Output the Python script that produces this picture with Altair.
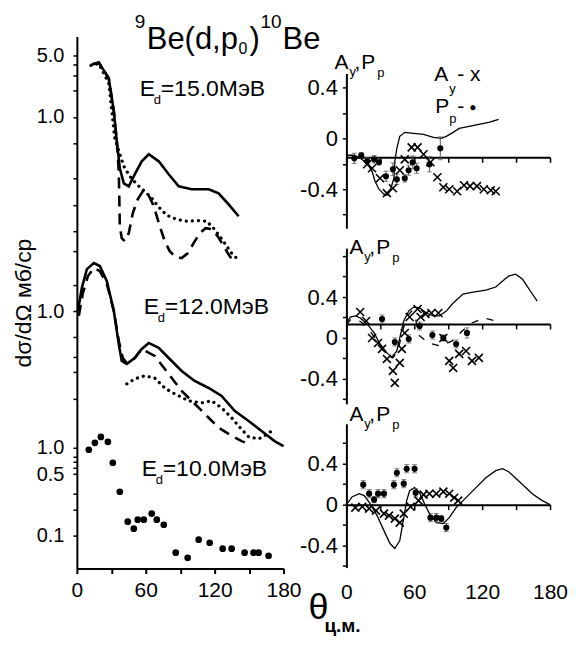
import altair as alt
import pandas as pd
import numpy as np

FONT = "Liberation Sans"

# ---------------- Left panel: dσ/dΩ (mb/sr) ----------------
# E_d = 15.0 MeV
th15_solid = [13.0, 19.1, 27.8, 32.2, 34.8, 37.4, 40.9, 45.2, 50.4, 56.5, 62.6, 71.3, 80.0, 88.7, 100.0, 114.8, 123.5, 132.2, 140.9]
s15_solid = [3.95, 4.16, 2.74, 1.155, 0.527, 0.26, 0.175, 0.162, 0.222, 0.312, 0.375, 0.312, 0.222, 0.162, 0.15, 0.15, 0.135, 0.101, 0.074]
th15_dash = [13.0, 19.1, 27.8, 32.2, 34.8, 36.5, 37.0, 37.4, 39.1, 41.7, 45.2, 48.7, 53.0, 57.4, 61.7, 67.0, 72.2, 76.5, 80.9, 86.1,
             91.3, 96.5, 101.7, 107.0, 112.2, 117.4, 122.6, 127.8, 133.0, 138.3]
s15_dash = [3.95, 4.16, 2.74, 1.155, 0.527, 0.24, 0.11, 0.057, 0.0417, 0.0385, 0.0474, 0.08, 0.1155, 0.142, 0.135, 0.096, 0.057, 0.0385, 0.0296, 0.0253,
            0.0247, 0.028, 0.0365, 0.0474, 0.054, 0.0527, 0.044, 0.034, 0.026, 0.0216]
th15_dot = [12.2, 19.1, 27.8, 33.0, 40.9, 46.1, 52.2, 59.1, 65.2, 71.3, 78.3, 87.0, 95.7, 104.3, 113.0, 119.1, 124.3, 130.4, 134.8, 140.0]
s15_dot = [3.85, 4.05, 2.40, 0.57, 0.274, 0.211, 0.171, 0.142, 0.119, 0.094, 0.076, 0.068, 0.065, 0.066, 0.065, 0.054, 0.044, 0.034, 0.028, 0.024]

# E_d = 12.0 MeV
th12_solid = [0.9, 4.3, 8.7, 14.8, 20.0, 26.1, 32.2, 36.5, 39.1, 43.5, 50.4, 56.5, 62.6, 71.3, 80.0, 91.3, 102.6, 114.8, 126.1, 137.4, 149.6, 160.9, 172.2, 180.0]
s12_solid = [1.0, 1.83, 3.0, 3.51, 3.25, 2.19, 1.0, 0.42, 0.27, 0.25, 0.292, 0.37, 0.433, 0.38, 0.292, 0.208, 0.16, 0.133, 0.108, 0.073, 0.056, 0.043, 0.033, 0.029]
th12_dash = [1.7, 5.2, 9.6, 14.8, 20.0, 26.1, 32.2, 36.5, 40.0, 43.5, 50.4, 56.5, 67.8, 80.0, 91.3, 102.6, 114.8, 123.5, 134.8, 143.5, 152.2]
s12_dash = [0.88, 1.6, 2.5, 3.08, 2.85, 2.03, 1.0, 0.456, 0.292, 0.256, 0.292, 0.37, 0.308, 0.192, 0.123, 0.088, 0.061, 0.047, 0.038, 0.033, 0.030]
th12_dot = [43.5, 50.4, 59.1, 67.8, 76.5, 85.2, 97.4, 108.7, 117.4, 126.1, 134.8, 140.9, 149.6, 158.3, 163.5, 169.6]
s12_dot = [0.148, 0.169, 0.183, 0.173, 0.133, 0.114, 0.095, 0.09, 0.095, 0.079, 0.061, 0.049, 0.037, 0.035, 0.038, 0.043]

# E_d = 10.0 MeV (experiment)
th10 = [10.4, 15.7, 20.9, 27.0, 31.3, 37.4, 44.3, 49.6, 53.0, 58.3, 65.2, 69.6, 75.7, 86.1, 96.5, 106.1, 115.7, 127.0, 134.8, 146.1, 153.9, 158.3, 167.0]
s10 = [0.95, 1.14, 1.33, 1.17, 0.675, 0.316, 0.144, 0.12, 0.152, 0.152, 0.178, 0.152, 0.133, 0.064, 0.056, 0.09, 0.083, 0.071, 0.071, 0.064, 0.064, 0.064, 0.059]

# vertical display offsets of the three groups (decades)
SHIFT = {"15": 3.767, "12": 1.557, "10": 0.0}
LOG_DOMAIN = [-1.375, 4.682]

# ---------------- Right panels: A_y, P_p ----------------
# 15.0 MeV
thA15_fit = [0, 0.9, 7.0, 12.2, 18.4, 22.7, 25.3, 28.8, 33.2, 35.8, 38.5, 42.0, 42.8, 44.6, 47.2, 51.6, 59.4, 68.2, 76.9, 83.9, 88.3, 94.4, 99.7, 108.4, 117.1, 125.9, 134.6]
A15_fit = [-0.149, -0.133, -0.133, -0.157, -0.196, -0.259, -0.337, -0.4, -0.439, -0.447, -0.416, -0.314, -0.18, -0.078, 0.016, 0.047, 0.039, 0.031, 0.008, 0.0, 0.016, 0.047, 0.078, 0.094, 0.11, 0.125, 0.149]
thAy15 = [18.4, 22.7, 29.7, 35.8, 41.1, 47.2, 51.6, 57.7, 62.9, 68.2, 74.3, 80.4, 85.7, 90.9, 97.9, 104.0, 109.3, 115.4, 121.5, 127.6, 132.0]
Ay15 = [-0.204, -0.235, -0.314, -0.431, -0.392, -0.251, -0.165, -0.071, -0.071, -0.125, -0.188, -0.306, -0.384, -0.4, -0.416, -0.369, -0.376, -0.376, -0.4, -0.408, -0.416]
thPp15 = [7.0, 13.1, 18.4, 24.5, 28.8, 35.0, 41.1, 44.6, 51.6, 55.0, 58.6, 62.1, 73.4, 83.0]
Pp15 = [-0.157, -0.133, -0.18, -0.165, -0.188, -0.298, -0.243, -0.322, -0.314, -0.251, -0.188, -0.235, -0.204, -0.078]
ePp15 = [0.04, 0.02, 0.03, 0.03, 0.02, 0.04, 0.05, 0.04, 0.03, 0.04, 0.05, 0.04, 0.06, 0.09]

# 12.0 MeV
thA12_fit = [0, 3.5, 7.9, 12.2, 18.4, 24.5, 29.7, 35.8, 40.2, 44.6, 47.2, 50.7, 55.1, 59.4, 64.7, 70.8, 76.9, 82.2, 88.3, 94.4,
             103.1, 111.9, 123.3, 132.0, 138.1, 143.4, 149.5, 155.6, 162.6, 168.7]
A12_fit = [0.146, 0.205, 0.215, 0.195, 0.137, 0.049, -0.059, -0.146, -0.185, -0.127, 0.0, 0.166, 0.263, 0.302, 0.293, 0.244, 0.215, 0.215, 0.263, 0.341,
           0.429, 0.449, 0.468, 0.498, 0.556, 0.605, 0.624, 0.576, 0.459, 0.361]
thA12_dash = [0, 3.5, 7.9, 13.1, 19.2, 25.3, 30.6, 36.7, 41.1, 45.5, 49.0, 53.3, 57.7, 61.2, 63.8, 72.6, 83.0, 93.5, 102.3, 111.0, 121.5, 132.0, 135.5]
A12_dash = [0.127, 0.176, 0.185, 0.156, 0.088, 0.0, -0.098, -0.176, -0.195, -0.127, 0.039, 0.205, 0.263, 0.185, 0.029, -0.049, -0.078, -0.029, 0.068, 0.146, 0.195, 0.166, 0.146]
thAy12 = [12.2, 17.5, 22.7, 28.0, 31.5, 35.8, 41.1, 42.8, 47.2, 49.0, 51.6, 55.9, 62.9, 65.6, 69.9, 75.2, 81.3, 85.7, 90.9, 94.4, 99.7, 105.8, 111.0, 117.1]
Ay12 = [0.254, 0.166, 0.0, -0.049, -0.107, -0.205, -0.322, -0.439, -0.244, -0.107, 0.049, 0.205, 0.283, 0.205, 0.234, 0.244, 0.244, 0.0, -0.224, -0.293, -0.156, -0.127, -0.224, -0.195]
thPp12 = [31.5, 42.8, 55.1, 64.7, 76.0, 85.7, 97.0, 106.6]
Pp12 = [0.185, -0.039, -0.01, 0.117, 0.029, 0.0, -0.059, 0.049]
ePp12 = [0.04, 0.04, 0.04, 0.04, 0.04, 0.03, 0.04, 0.05]

# 10.0 MeV
thA10_fit = [0, 5.2, 11.4, 15.7, 21.0, 27.1, 33.2, 38.5, 42.8, 47.2, 50.7, 53.3, 55.9, 60.3, 64.7, 69.0, 73.4, 79.5, 85.7, 90.9,
             97.0, 103.1, 111.9, 123.3, 132.0, 138.1, 143.4, 152.1, 164.3, 173.1, 180.0]
A10_fit = [0.0, 0.078, 0.107, 0.088, 0.01, -0.107, -0.254, -0.38, -0.429, -0.351, -0.127, 0.039, 0.137, 0.166, 0.117, 0.01, -0.088, -0.176, -0.185, -0.127,
           -0.029, 0.039, 0.137, 0.263, 0.332, 0.351, 0.322, 0.234, 0.107, 0.039, 0.0]
thAy10 = [7.9, 14.0, 20.1, 26.2, 33.2, 37.6, 42.8, 47.2, 50.7, 56.8, 63.8, 68.2, 73.4, 79.5, 85.7, 90.9, 95.3, 98.8]
Ay10 = [-0.029, -0.02, -0.039, -0.059, -0.088, -0.107, -0.137, -0.176, -0.088, -0.02, 0.039, 0.098, 0.107, 0.107, 0.127, 0.107, 0.068, 0.039]
thPp10 = [14.9, 20.1, 24.5, 28.0, 33.2, 42.0, 44.6, 50.7, 53.3, 60.3, 61.2, 74.3, 79.5, 83.9, 88.3]
Pp10 = [0.195, 0.107, 0.049, 0.107, 0.107, 0.195, 0.312, 0.205, 0.351, 0.351, 0.117, -0.127, -0.127, -0.137, -0.224]
ePp10 = [0.04, 0.04, 0.03, 0.04, 0.04, 0.04, 0.04, 0.04, 0.04, 0.04, 0.04, 0.04, 0.04, 0.03, 0.04]

X_TICKS = [0, 30, 60, 90, 120, 150, 180]
ONE = pd.DataFrame({"d": [0]})

LEFT_W, LEFT_H = 207, 533
RIGHT_W = 204
GAP = 63


def txt(s, px, py, size, weight="normal", align="left"):
    return alt.Chart(ONE).mark_text(
        text=s, align=align, baseline="alphabetic", font=FONT, fontSize=size,
        fontWeight=weight, color="black"
    ).encode(x=alt.value(px), y=alt.value(py))


def energy_label(num, px, py):
    return [txt("E", px, py, 23), txt("d", px + 14, py + 8, 13), txt("=" + num + "МэВ", px + 21, py, 23)]


# ---------- left chart ----------
def cs_frame(th, s, g):
    return pd.DataFrame({"theta": th, "sigma": s, "scaled": np.array(s) * 10 ** SHIFT[g]})


xs_left = alt.Scale(domain=[0, 180], nice=False)
ys_left = alt.Scale(type="log", domain=[10 ** LOG_DOMAIN[0], 10 ** LOG_DOMAIN[1]], nice=False)

labeled = [(5.0, "15"), (1.0, "15"), (1.0, "12"), (1.0, "10"), (0.5, "10"), (0.1, "10")]
minor = {"15": [4, 3, 2, 0.5, 0.2, 0.1, 0.05, 0.03], "12": [2, 0.5, 0.3, 0.2, 0.1], "10": [0.8, 0.7, 0.6, 0.3, 0.2]}
tick_vals = [v * 10 ** SHIFT[g] for v, g in labeled]
for g, lst in minor.items():
    tick_vals += [v * 10 ** SHIFT[g] for v in lst]
tick_vals = sorted(tick_vals)
label_expr = "".join(
    f"abs(log(datum.value) - ({np.log(v * 10 ** SHIFT[g]):.6f})) < 0.001 ? '{v:.1f}' : " for v, g in labeled
) + "''"

x_left_axis = alt.Axis(values=X_TICKS, labelExpr="datum.value % 60 == 0 ? datum.label : ''", title=None,
                       tickSize=5, tickWidth=2, domainWidth=2, labelFontSize=21, labelPadding=6,
                       labelFlush=False, labelOverlap=False, grid=False)
y_left_axis = alt.Axis(values=tick_vals, labelExpr=label_expr, title="dσ/dΩ мб/ср", titleFontSize=23,
                       titleFontWeight="normal", titlePadding=1, tickSize=4, tickWidth=1.5, domainWidth=2,
                       labelFontSize=20, labelPadding=9, labelOverlap=False, grid=False)


def left_line(th, s, g, dash=None, cap="butt", width=2.6):
    kw = dict(color="black", strokeWidth=width, strokeCap=cap)
    if dash:
        kw["strokeDash"] = dash
    return alt.Chart(cs_frame(th, s, g)).mark_line(**kw).encode(
        x=alt.X("theta:Q", scale=xs_left, axis=x_left_axis),
        y=alt.Y("scaled:Q", scale=ys_left, axis=y_left_axis),
        order="theta:Q",
    )


DOT = [0.1, 6]
DASH = [11, 7]
left_layers = [
    left_line(th15_solid, s15_solid, "15"),
    left_line(th15_dash, s15_dash, "15", DASH),
    left_line(th15_dot, s15_dot, "15", DOT, cap="round", width=3.2),
    left_line(th12_solid, s12_solid, "12"),
    left_line(th12_dash, s12_dash, "12", DASH),
    left_line(th12_dot, s12_dot, "12", DOT, cap="round", width=3.2),
    alt.Chart(cs_frame(th10, s10, "10")).mark_point(filled=True, color="black", size=45, opacity=1).encode(
        x=alt.X("theta:Q", scale=xs_left, axis=x_left_axis),
        y=alt.Y("scaled:Q", scale=ys_left, axis=y_left_axis),
    ),
]
# title ⁹Be(d,p0)¹⁰Be
left_layers += [
    txt("9", 58, -9, 19), txt("Be(d,p", 70, 13, 31), txt("0", 162, 18, 16),
    txt(")", 173, 13, 31), txt("10", 184, -9, 19), txt("Be", 206, 13, 31),
]
left_layers += energy_label("15.0", 63, 60)
left_layers += energy_label("12.0", 67, 278)
left_layers += energy_label("10.0", 65, 440)

left = alt.layer(*left_layers).properties(width=LEFT_W, height=LEFT_H)


# ---------- right panels ----------
def right_panel(H, dom, line_v, fit, ay, pp, dash=None, show_labels=False, extra=()):
    xs = alt.Scale(domain=[0, 180], nice=False)
    ys = alt.Scale(domain=dom, nice=False, zero=False)
    line_px = (dom[1] - line_v) / (dom[1] - dom[0]) * H
    off = line_px - H
    xaxis = alt.Axis(orient="bottom", offset=off, values=X_TICKS, title=None, tickSize=5, tickWidth=1.5,
                     domainWidth=2, grid=False, labels=show_labels,
                     labelExpr="datum.value % 60 == 0 ? datum.label : ''", labelFontSize=21,
                     labelPadding=(H - line_px) + 9, labelFlush=False, labelOverlap=False)
    yt = [v for v in [-0.6, -0.4, -0.2, 0.0, 0.2, 0.4, 0.6, 0.8] if dom[0] <= v <= dom[1]]
    yaxis = alt.Axis(values=yt, title=None, tickSize=4, tickWidth=1.5, domainWidth=2, grid=False,
                     labelExpr="abs(datum.value-0.4)<1e-6 ? '0.4' : abs(datum.value)<1e-6 ? '0' : abs(datum.value+0.4)<1e-6 ? '-0.4' : ''",
                     labelFontSize=22, labelPadding=5, labelOverlap=False)
    X = alt.X("theta:Q", scale=xs, axis=xaxis)
    Y = alt.Y("v:Q", scale=ys, axis=yaxis)
    layers = [alt.Chart(pd.DataFrame({"theta": fit[0], "v": fit[1]})).mark_line(color="black", strokeWidth=1.3).encode(x=X, y=Y, order="theta:Q")]
    if dash is not None:
        layers.append(alt.Chart(pd.DataFrame({"theta": dash[0], "v": dash[1]})).mark_line(
            color="black", strokeWidth=1.3, strokeDash=[7, 9]).encode(x=X, y=Y, order="theta:Q"))
    dpp = pd.DataFrame({"theta": pp[0], "v": pp[1], "e": pp[2]})
    dpp["lo"] = dpp["v"] - dpp["e"]
    dpp["hi"] = dpp["v"] + dpp["e"]
    layers.append(alt.Chart(dpp).mark_rule(color="#555", strokeWidth=1).encode(x=X, y=alt.Y("lo:Q", scale=ys, axis=yaxis), y2="hi:Q"))
    layers.append(alt.Chart(dpp).mark_tick(color="#555", orient="horizontal", size=5, thickness=1).encode(x=X, y=alt.Y("lo:Q", scale=ys, axis=yaxis)))
    layers.append(alt.Chart(dpp).mark_tick(color="#555", orient="horizontal", size=5, thickness=1).encode(x=X, y=alt.Y("hi:Q", scale=ys, axis=yaxis)))
    layers.append(alt.Chart(dpp).mark_point(filled=True, color="black", size=38, opacity=1).encode(x=X, y=Y))
    layers.append(alt.Chart(pd.DataFrame({"theta": ay[0], "v": ay[1]})).mark_point(
        shape="M-1,-1L1,1M-1,1L1,-1", filled=False, color="black", size=64, strokeWidth=1.6, opacity=1).encode(x=X, y=Y))
    layers += list(extra)
    return alt.layer(*layers).properties(width=RIGHT_W, height=H)


def ay_pp_label(px, py):
    return [txt("A", px, py, 21), txt("y", px + 15, py + 7, 13), txt(",", px + 20, py, 21),
            txt("P", px + 27, py, 21), txt("p", px + 43, py + 8, 13)]


top_extra = ay_pp_label(-12, -4) + [
    txt("A", 88, 8, 21), txt("y", 103, 20, 13), txt("- x", 111, 8, 21),
    txt("P", 89, 40, 21), txt("p", 103, 50, 13), txt("-", 111, 40, 21), txt("●", 123, 38, 12),
]
top = right_panel(155, [-0.706, 0.51], -0.149, (thA15_fit, A15_fit), (thAy15, Ay15), (thPp15, Pp15, ePp15), extra=top_extra)
mid = right_panel(156, [-0.644, 0.878], 0.137, (thA12_fit, A12_fit), (thAy12, Ay12), (thPp12, Pp12, ePp12),
                  dash=(thA12_dash, A12_dash), extra=ay_pp_label(3, 6))
bot_extra = ay_pp_label(3, -3) + [txt("θ", -38, 196, 36), txt("ц.м.", -22, 209, 19, weight="bold")]
bot = right_panel(144, [-0.615, 0.790], 0.0, (thA10_fit, A10_fit), (thAy10, Ay10), (thPp10, Pp10, ePp10),
                  show_labels=True, extra=bot_extra)

spacer = alt.Chart(ONE).mark_text(text="").encode(x=alt.value(0), y=alt.value(0)).properties(width=RIGHT_W, height=17)

right = alt.vconcat(spacer, top, mid, bot, spacing=20, bounds="flush")
chart = alt.hconcat(left, right, spacing=GAP, bounds="flush").properties(
    padding={"left": 4, "top": 4, "right": 0, "bottom": 0}, background="white"
).configure_view(stroke=None).configure_axis(
    domainColor="black", tickColor="black", labelColor="black", titleColor="black",
    labelFont=FONT, titleFont=FONT
)

chart.save("out.html", embed_options={"renderer": "svg", "actions": False})
